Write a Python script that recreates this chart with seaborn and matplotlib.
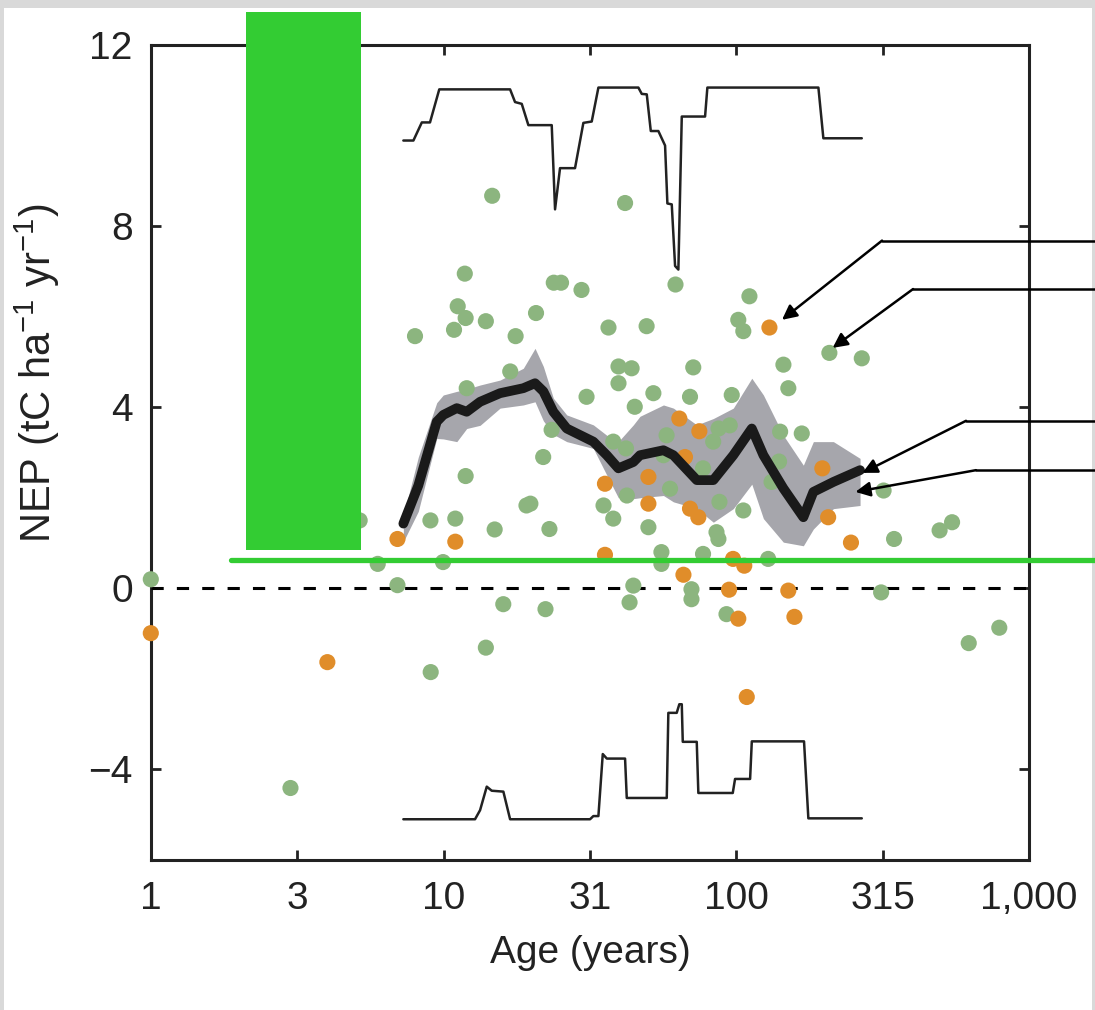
import numpy as np
import pandas as pd
import matplotlib
matplotlib.use("Agg")
import matplotlib.pyplot as plt
import seaborn as sns
from matplotlib.patches import Rectangle
from matplotlib.lines import Line2D

# ---------------- data ----------------
green_age = [1.0, 3.0, 5.17, 5.96, 6.96, 7.99, 9.02, 9.04, 9.96, 10.86, 10.97, 11.18, 11.82,
             11.9, 11.9, 12.0, 13.95, 13.95, 14.66, 14.95, 16.0, 16.9, 17.63, 19.2, 19.8, 20.7,
             21.9, 22.3, 23.0, 23.4, 23.8, 25.2, 29.6, 30.8, 35.2, 36.6, 38.0, 38.0, 39.6, 39.6,
             41.7, 42.0, 43.9, 44.5, 43.2, 45.0, 49.4, 50.1, 52.1, 55.5, 55.5, 62.0, 69.5, 70.3,
             70.3, 71.3, 77.0, 86.9, 92.6, 96.5, 101.6, 105.7, 105.7, 110.9, 128.5, 141.2, 144.9,
             150.6, 167.4, 208.0, 268.4, 312.5, 318.6, 346.0, 495.0, 546.0, 622.5, 791.6,
             87.0, 95.0, 83.4, 140.0, 132.0, 87.6, 85.6, 56.4, 59.4, 42.3, 57.8, 77.0]
green_nep = [0.2, -4.41, 1.50, 0.54, 0.07, 5.57, 1.50, -1.85, 0.58, 5.71, 1.54, 6.23, 6.95,
             5.97, 2.48, 4.42, 5.90, -1.31, 8.67, 1.30, -0.35, 4.79, 5.57, 1.83, 1.87, 6.08,
             2.90, -0.46, 1.31, 3.5, 6.75, 6.75, 6.59, 4.23, 1.83, 5.76, 1.54, 3.24, 4.90, 4.53,
             8.51, 3.09, 4.86, 0.06, -0.31, 4.01, 5.79, 1.35, 4.31, 0.80, 0.54, 6.71, 4.23, -0.02,
             -0.24, 4.88, 0.76, 1.09, -0.57, 4.27, 5.93, 5.68, 1.72, 6.45, 0.65, 3.46, 4.94,
             4.42, 3.42, 5.20, 5.08, -0.09, 2.16, 1.09, 1.28, 1.46, -1.21, -0.87,
             3.53, 3.6, 3.24, 2.8, 2.35, 1.91, 1.24, 2.94, 2.2, 2.05, 3.38, 2.65]

orange_age = [1.0, 4.01, 6.96, 10.97, 35.6, 35.6, 50.1, 50.1, 63.9, 66.8, 66.0, 69.5, 74.2,
              74.8, 94.5, 97.5, 106.5, 101.6, 108.6, 129.8, 150.6, 158.0, 196.8, 206.0, 246.5]
orange_nep = [-0.99, -1.63, 1.09, 1.03, 2.31, 0.74, 2.46, 1.87, 3.75, 2.90, 0.30, 1.76, 1.57,
              3.47, -0.03, 0.65, 0.50, -0.67, -2.40, 5.76, -0.05, -0.63, 2.65, 1.57, 1.01]

mean_age = [7.29, 8.20, 9.48, 9.98, 11.10, 12.0, 13.33, 15.60, 18.73, 20.54, 21.93, 23.72,
            26.36, 32.49, 36.12, 39.56, 44.5, 46.9, 56.4, 61.0, 73.3, 83.5, 97.7, 113.0, 123.8,
            144.8, 169.5, 183.4, 214.7, 264.8]
mean_nep = [1.43, 2.27, 3.68, 3.83, 3.98, 3.90, 4.12, 4.31, 4.42, 4.53, 4.35, 3.90, 3.53, 3.24,
            2.94, 2.65, 2.79, 2.94, 3.05, 2.94, 2.39, 2.39, 2.94, 3.53, 2.94, 2.21, 1.57, 2.13,
            2.35, 2.61]
band_high = [1.6, 2.9, 4.1, 4.27, 4.35, 4.4, 4.49, 4.6, 4.86, 5.3, 4.9, 4.2, 3.83, 3.61, 3.38,
             3.24, 3.61, 3.8, 4.05, 3.98, 3.61, 3.75, 3.98, 4.64, 4.27, 3.38, 2.72, 3.24, 3.24,
             2.87]
band_low = [1.03, 1.7, 3.31, 3.3, 3.24, 3.53, 3.6, 3.98, 4.05, 4.12, 3.7, 3.4, 3.24, 3.09, 2.5,
            2.0, 1.98, 2.0, 2.05, 1.91, 1.76, 1.46, 1.76, 2.3, 1.54, 1.02, 0.94, 1.31, 1.76, 1.83]

top_age = [7.29, 7.89, 8.43, 8.99, 9.67, 16.88, 17.55, 18.50, 19.49, 23.42, 24.04, 25.00,
           28.13, 30.04, 32.08, 33.81, 46.30, 47.55, 49.46, 51.05, 54.18, 57.12, 58.17, 60.20,
           61.8, 63.42, 65.14, 78.24, 79.67, 190.8, 198.4, 268.4]
top_val = [9.89, 9.89, 10.29, 10.29, 11.02, 11.02, 10.74, 10.70, 10.23, 10.23, 8.37, 9.28,
           9.28, 10.28, 10.31, 11.06, 11.06, 10.92, 10.91, 10.10, 10.10, 9.78, 8.50, 8.48,
           7.12, 7.04, 10.42, 10.42, 11.06, 11.06, 9.94, 9.94]

bottom_age = [7.29, 12.81, 13.33, 14.05, 14.61, 16.01, 16.88, 31.66, 32.49, 33.81, 34.99,
              36.12, 41.70, 42.26, 57.88, 58.61, 62.60, 63.9, 65.14, 65.65, 73.28, 74.21,
              97.28, 99.05, 111.5, 113.0, 170.4, 176.3, 268.4]
bottom_val = [-5.10, -5.10, -4.90, -4.38, -4.47, -4.49, -5.10, -5.10, -5.03, -5.03, -3.66,
              -3.76, -3.76, -4.63, -4.63, -2.75, -2.75, -2.56, -2.56, -3.39, -3.39, -4.52,
              -4.52, -4.21, -4.21, -3.38, -3.38, -5.08, -5.08]

x_ticks = [1, 10 ** 0.5, 10, 10 ** 1.5, 100, 10 ** 2.5, 1000]
x_tick_labels = ["1", "3", "10", "31", "100", "315", "1,000"]
y_ticks = [-4, 0, 4, 8, 12]
y_tick_labels = ["\u22124", "0", "4", "8", "12"]

# annotation arrows: (tip age, tip nep), (elbow age, elbow nep)
arrow_tips = [(143.3, 5.93), (213.4, 5.31), (269.7, 2.55), (255.3, 2.13)]
arrow_elbows = [(314.7, 7.68), (401.7, 6.61), (609.3, 3.70), (659.2, 2.61)]

# ---------------- style ----------------
sns.set_theme(style="ticks")
plt.rcParams["font.family"] = ["Liberation Sans", "DejaVu Sans"]
plt.rcParams["mathtext.default"] = "regular"

GREEN = "#8cb57f"
ORANGE = "#e08d2a"
BAND = "#a6a6ac"
LIME = "#33cc33"

fig = plt.figure(figsize=(10.95, 10.10), dpi=100)
fig.patch.set_facecolor("#d9d9d9")
fig.patches.append(Rectangle((4 / 1095, 0), 1088 / 1095, 1002 / 1010,
                             transform=fig.transFigure, facecolor="white",
                             edgecolor="none", zorder=-10))

ax = fig.add_axes([150.8 / 1095, 1 - 860 / 1010, 878.2 / 1095, 815 / 1010])
ax.set_xscale("log")
ax.set_xlim(1, 1000)
ax.set_ylim(-6, 12)

# band
ax.fill_between(mean_age, band_low, band_high, color=BAND, linewidth=0, zorder=2)

# scatter points
df = pd.DataFrame({
    "age": green_age + orange_age,
    "nep": green_nep + orange_nep,
    "group": ["g"] * len(green_age) + ["o"] * len(orange_age),
})
sns.scatterplot(data=df, x="age", y="nep", hue="group", palette={"g": GREEN, "o": ORANGE},
                s=135, edgecolor="none", linewidth=0, legend=False, ax=ax,
                clip_on=False, zorder=3)

# zero line
ax.axhline(0, color="black", linewidth=2.2, dashes=(4, 4.3), zorder=2.6)

# mean line
sns.lineplot(x=mean_age, y=mean_nep, ax=ax, color="#1a1a1a", linewidth=7,
             sort=False, estimator=None, zorder=4)

# top and bottom curves
sns.lineplot(x=top_age, y=top_val, ax=ax, color="#222222", linewidth=1.8,
             sort=False, estimator=None, zorder=4)
sns.lineplot(x=bottom_age, y=bottom_val, ax=ax, color="#222222", linewidth=1.8,
             sort=False, estimator=None, zorder=4)

# axes formatting
ax.set_xticks(x_ticks)
ax.set_xticklabels(x_tick_labels)
ax.xaxis.set_minor_locator(matplotlib.ticker.NullLocator())
ax.set_yticks(y_ticks)
ax.set_yticklabels(y_tick_labels)
ax.tick_params(axis="both", which="major", direction="in", length=7, width=2,
               top=True, right=True, labelsize=28, colors="#222222")
ax.tick_params(axis="x", pad=15)
ax.tick_params(axis="y", pad=13)
for sp in ax.spines.values():
    sp.set_linewidth(2.2)
    sp.set_color("#222222")

ax.set_xlabel("Age (years)", fontsize=28, color="#222222")
ax.set_ylabel("NEP (tC ha$^{\u22121}$ yr$^{\u22121}$)", fontsize=30, color="#222222")
ax.xaxis.set_label_coords(0.5, -0.092)
ax.yaxis.set_label_coords(-0.101, 0.597)

# arrows with horizontal leaders to the right edge
x_edge = 10 ** ((1095 - 150.8) / 292.73)
for (tx, ty), (ex, ey) in zip(arrow_tips, arrow_elbows):
    ax.annotate("", xy=(tx, ty), xytext=(ex, ey),
                arrowprops=dict(arrowstyle="-|>", color="black", lw=1.8,
                                mutation_scale=22, shrinkA=0, shrinkB=0),
                annotation_clip=False, zorder=6)
    ax.plot([ex, x_edge], [ey, ey], color="black", lw=1.8, clip_on=False, zorder=6)

# bright green overlay blocks
fig.patches.append(Rectangle((246 / 1095, 1 - 550 / 1010), 115 / 1095, 538 / 1010,
                             transform=fig.transFigure, facecolor=LIME,
                             edgecolor="none", zorder=20))
fig.lines.append(Line2D([231 / 1095, 1.0], [1 - 560 / 1010, 1 - 560 / 1010],
                        transform=fig.transFigure, color=LIME, linewidth=3.8, zorder=20))

fig.savefig("out.png", dpi=100, facecolor=fig.get_facecolor())
